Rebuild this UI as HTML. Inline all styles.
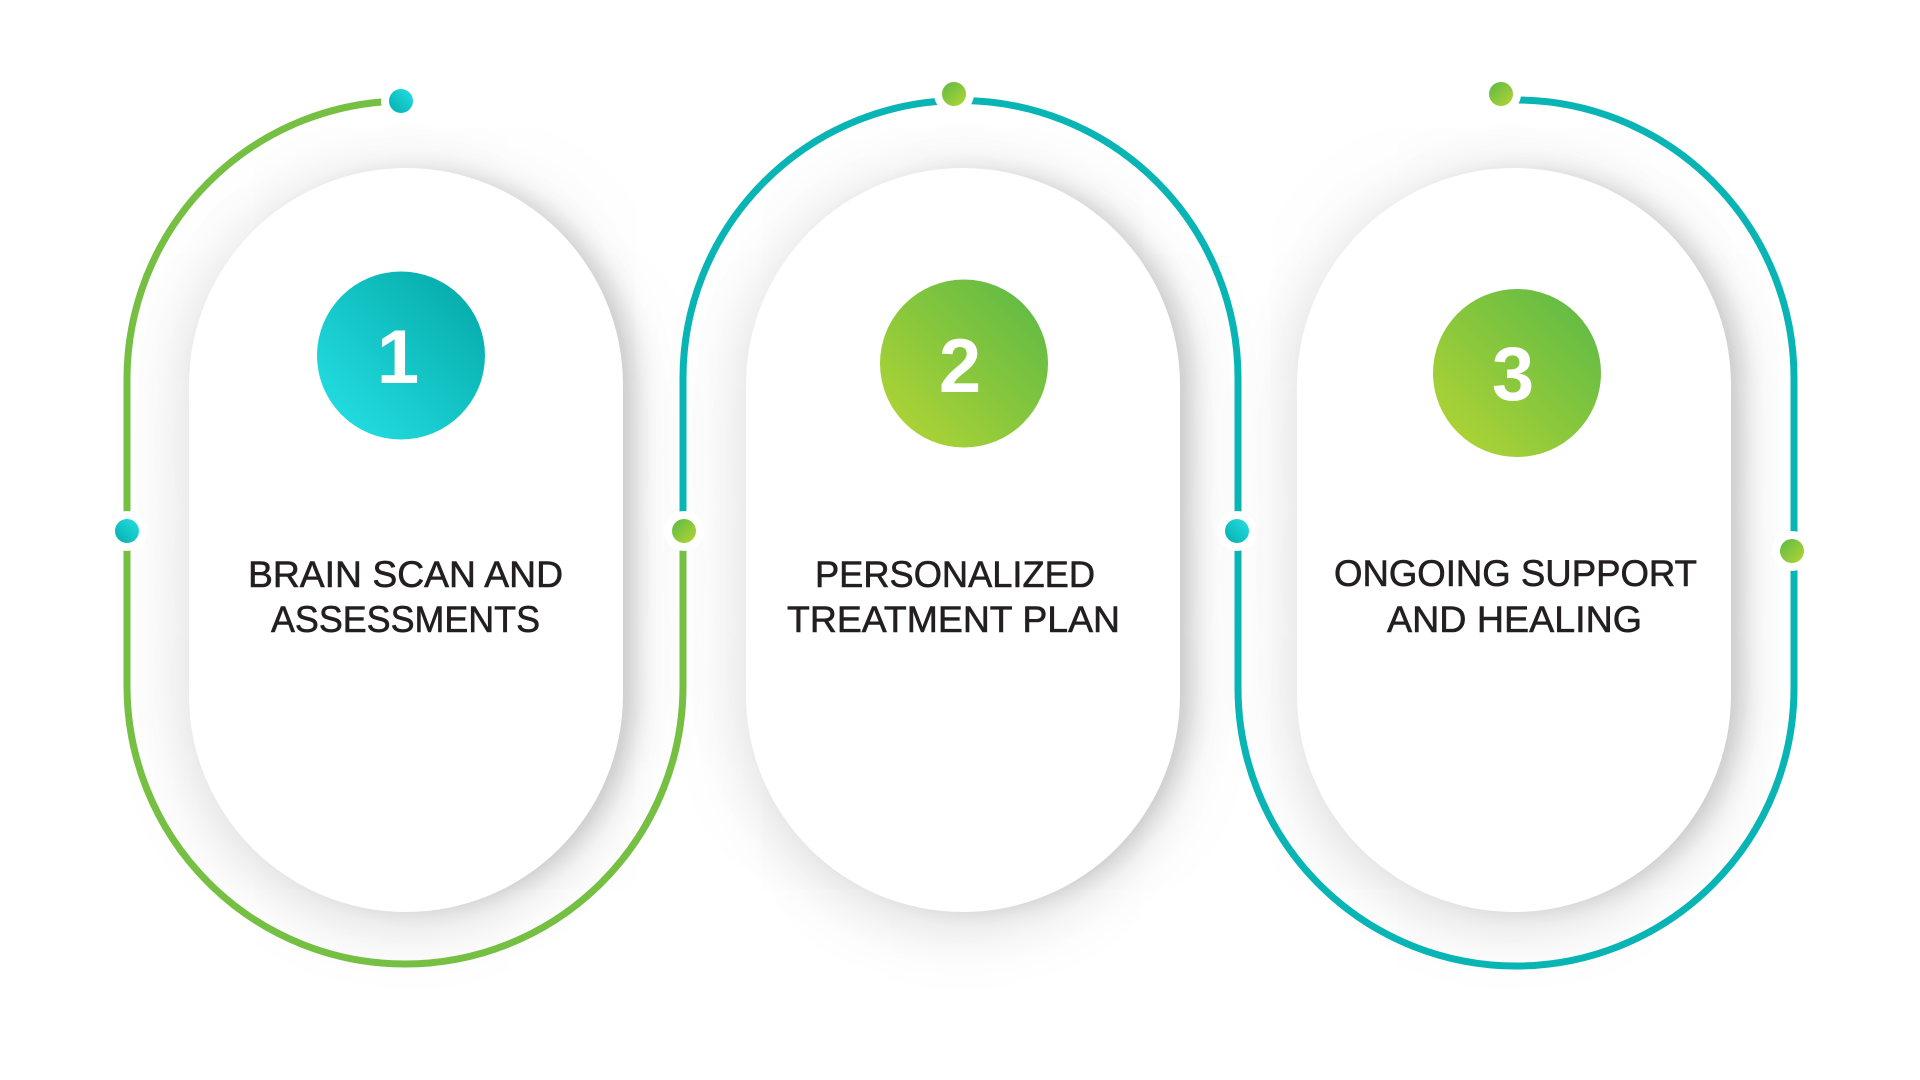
<!DOCTYPE html>
<html>
<head>
<meta charset="utf-8">
<style>
  html, body { margin: 0; padding: 0; background: #ffffff; }
  body { width: 1920px; height: 1080px; position: relative; overflow: hidden; }
  .panel {
    position: absolute;
    top: 168px;
    width: 434px;
    height: 744px;
    border-radius: 217px;
    background: #ffffff;
    box-shadow:
      18px 0 24px -6px rgba(0,0,0,0.14),
      0 12px 60px rgba(0,0,0,0.12),
      0 0 120px rgba(0,0,0,0.05);
  }
  svg { position: absolute; left: 0; top: 0; }
</style>
</head>
<body>
  <div class="panel" style="left:189px;"></div>
  <div class="panel" style="left:746px;"></div>
  <div class="panel" style="left:1297px;"></div>

  <svg width="1920" height="1080" viewBox="0 0 1920 1080" xmlns="http://www.w3.org/2000/svg">
    <defs>
      <linearGradient id="tealBig" x1="1" y1="0" x2="0" y2="1">
        <stop offset="0" stop-color="#02a6a4"/>
        <stop offset="1" stop-color="#27e3e8"/>
      </linearGradient>
      <linearGradient id="greenBig" x1="1" y1="0" x2="0" y2="1">
        <stop offset="0" stop-color="#58b847"/>
        <stop offset="1" stop-color="#b7d633"/>
      </linearGradient>
      <linearGradient id="tealDot" x1="0" y1="1" x2="1" y2="0">
        <stop offset="0" stop-color="#05adac"/>
        <stop offset="1" stop-color="#25e0e5"/>
      </linearGradient>
      <linearGradient id="greenDot" x1="0" y1="0" x2="1" y2="1">
        <stop offset="0" stop-color="#5cb947"/>
        <stop offset="1" stop-color="#b5d533"/>
      </linearGradient>
    </defs>

    <!-- connector lines -->
    <path d="M 405 101 A 278 278 0 0 0 127 379 L 127 686 A 278 278 0 0 0 683 686 L 683 531"
          fill="none" stroke="#75bf43" stroke-width="7"/>
    <path d="M 683 531 L 683 378 A 277.5 277.5 0 0 1 1238 378 L 1238 688 A 278 278 0 0 0 1794 688 L 1794 378 A 278 278 0 0 0 1516 100"
          fill="none" stroke="#09b5b4" stroke-width="7"/>

    <!-- dots with white halos -->
    <circle cx="401" cy="101" r="20" fill="#ffffff"/>
    <circle cx="401" cy="101" r="12" fill="url(#tealDot)"/>

    <circle cx="127" cy="531" r="20" fill="#ffffff"/>
    <circle cx="127" cy="531" r="12" fill="url(#tealDot)"/>

    <circle cx="684" cy="531" r="20" fill="#ffffff"/>
    <circle cx="684" cy="531" r="12" fill="url(#greenDot)"/>

    <circle cx="954" cy="94" r="20" fill="#ffffff"/>
    <circle cx="954" cy="94" r="12" fill="url(#greenDot)"/>

    <circle cx="1237" cy="531" r="20" fill="#ffffff"/>
    <circle cx="1237" cy="531" r="12" fill="url(#tealDot)"/>

    <circle cx="1792" cy="551" r="20" fill="#ffffff"/>
    <circle cx="1792" cy="551" r="12" fill="url(#greenDot)"/>

    <circle cx="1501" cy="94" r="20" fill="#ffffff"/>
    <circle cx="1501" cy="94" r="12" fill="url(#greenDot)"/>

    <!-- number badges -->
    <circle cx="401" cy="355.5" r="84" fill="url(#tealBig)"/>
    <circle cx="964" cy="363.5" r="84" fill="url(#greenBig)"/>
    <circle cx="1517" cy="373" r="84" fill="url(#greenBig)"/>

    <g font-family="'Liberation Sans', sans-serif" font-weight="bold" font-size="76" fill="#ffffff" text-anchor="middle">
      <text x="398" y="383">1</text>
      <text x="960" y="392">2</text>
      <text x="1513" y="400">3</text>
    </g>

    <!-- labels -->
    <g font-family="'Liberation Sans', sans-serif" font-size="37" fill="#231f20" stroke="#231f20" stroke-width="0.6">
      <text x="248" y="587" textLength="315" lengthAdjust="spacingAndGlyphs">BRAIN SCAN AND</text>
      <text x="271" y="632" textLength="269" lengthAdjust="spacingAndGlyphs">ASSESSMENTS</text>

      <text x="815" y="587" textLength="280" lengthAdjust="spacingAndGlyphs">PERSONALIZED</text>
      <text x="787" y="632" textLength="333" lengthAdjust="spacingAndGlyphs">TREATMENT PLAN</text>

      <text x="1334" y="586" textLength="363" lengthAdjust="spacingAndGlyphs">ONGOING SUPPORT</text>
      <text x="1387" y="632" textLength="255" lengthAdjust="spacingAndGlyphs">AND HEALING</text>
    </g>
  </svg>
</body>
</html>
